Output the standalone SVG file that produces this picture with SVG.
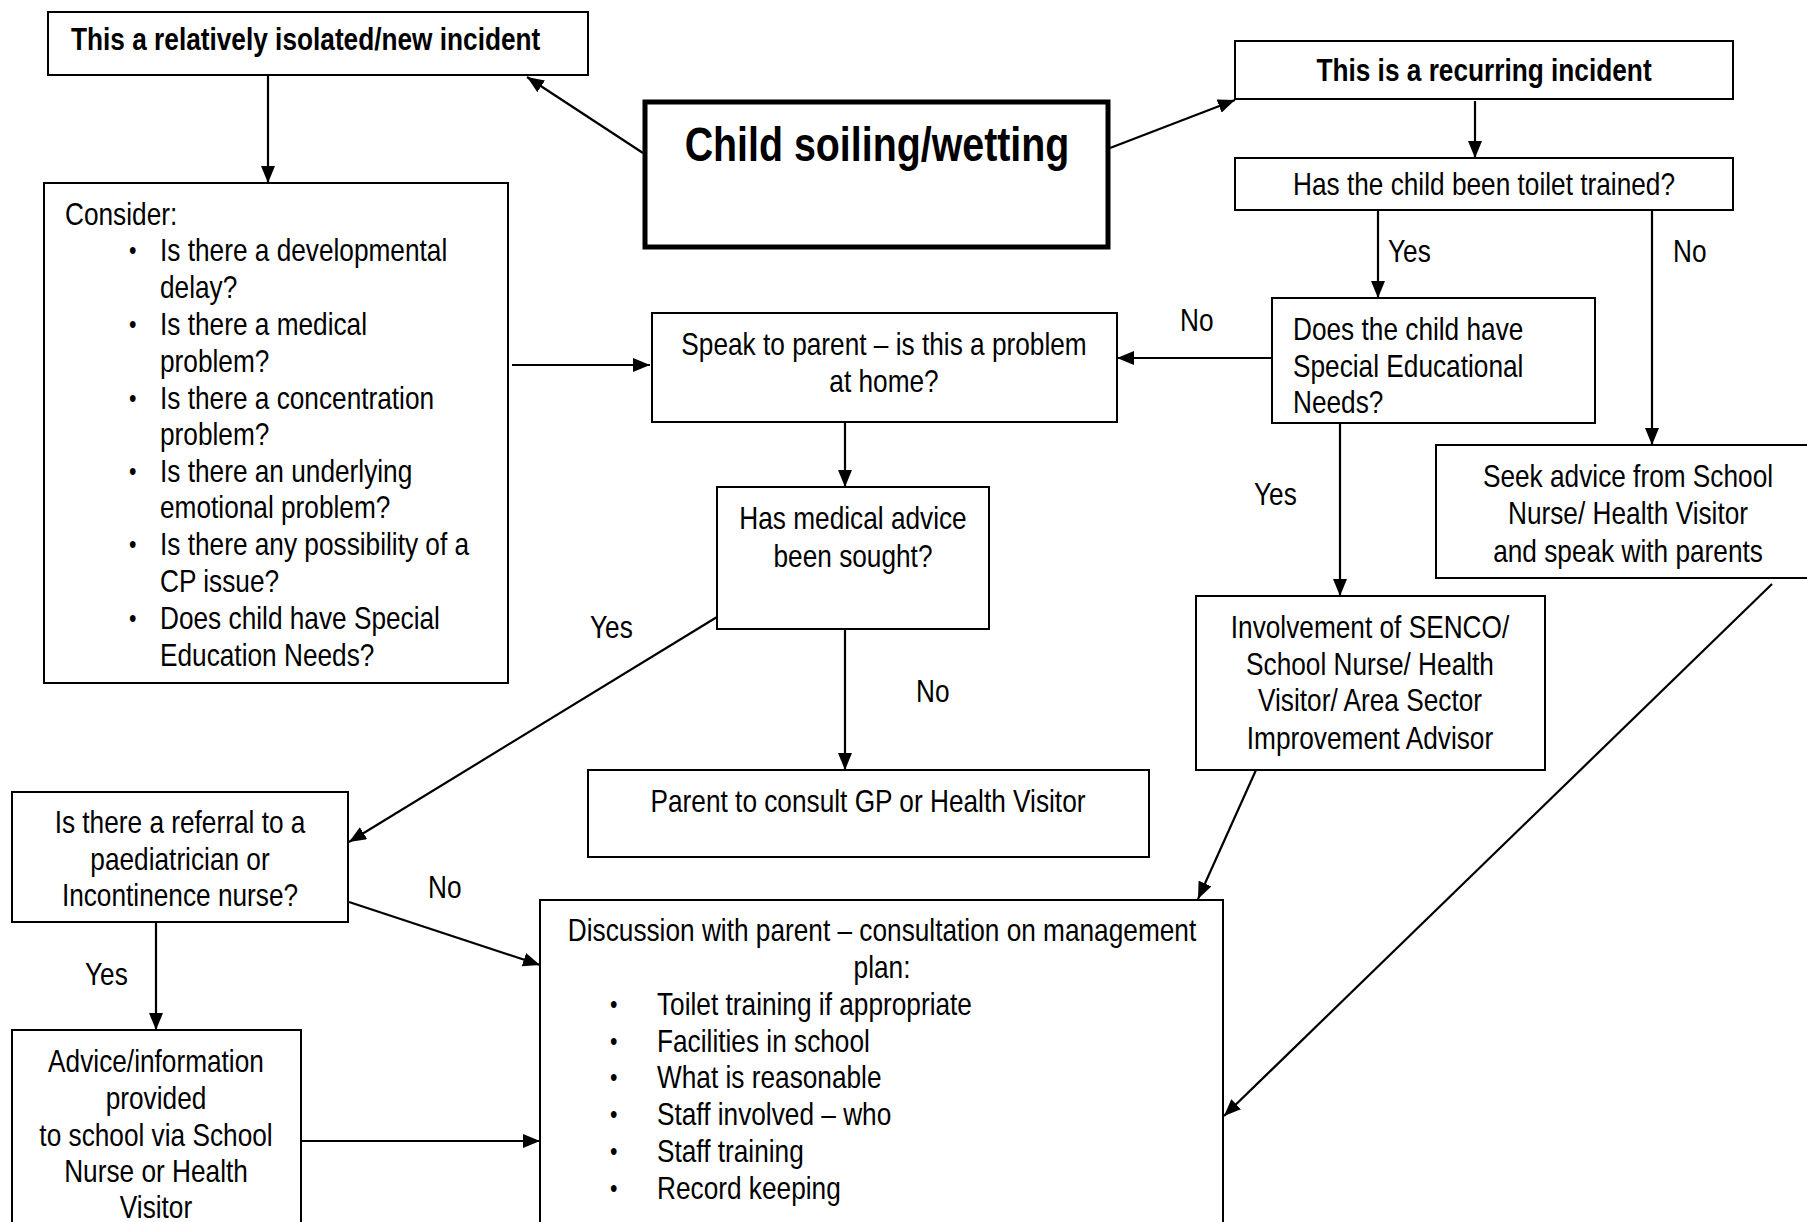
<svg xmlns="http://www.w3.org/2000/svg" width="1807" height="1222" viewBox="0 0 1807 1222">
<style>
text{font-family:"Liberation Sans",Arial,sans-serif;font-size:32px;fill:#000}
.b{font-weight:bold}
.big{font-size:48px;font-weight:bold}
.c{text-anchor:middle}
.dot{font-size:26px}
.box{fill:#fff;stroke:#000;stroke-width:2}
.thick{fill:#fff;stroke:#000;stroke-width:5}
.con line{stroke:#000;stroke-width:2.2;marker-end:url(#ah)}
</style>
<defs>
<marker id="ah" markerUnits="userSpaceOnUse" markerWidth="18" markerHeight="14" refX="17" refY="7" orient="auto">
<path d="M0,0 L17,7 L0,14 z" fill="#000"/>
</marker>
</defs>
<rect width="1807" height="1222" fill="#fff"/>

<g class="con">
<line x1="268" y1="75" x2="268" y2="183"/>
<line x1="643" y1="153" x2="527" y2="77"/>
<line x1="1110" y1="148" x2="1235" y2="100"/>
<line x1="1475" y1="101" x2="1475" y2="158"/>
<line x1="1378" y1="210" x2="1378" y2="298"/>
<line x1="1652" y1="210" x2="1652" y2="445"/>
<line x1="1272" y1="358" x2="1117" y2="358"/>
<line x1="512" y1="365" x2="650" y2="365"/>
<line x1="845" y1="422" x2="845" y2="487"/>
<line x1="845" y1="629" x2="845" y2="770"/>
<line x1="717" y1="617" x2="349" y2="842"/>
<line x1="1340" y1="423" x2="1340" y2="596"/>
<line x1="1256" y1="770" x2="1198" y2="899"/>
<line x1="1772" y1="584" x2="1224" y2="1116"/>
<line x1="349" y1="902" x2="540" y2="965"/>
<line x1="156" y1="922" x2="156" y2="1030"/>
<line x1="301" y1="1141" x2="540" y2="1141"/>
</g>

<g id="labels">
<text transform="translate(1388,262) scale(.82,1)">Yes</text>
<text transform="translate(1673,262) scale(.82,1)">No</text>
<text transform="translate(1180,331) scale(.82,1)">No</text>
<text transform="translate(1254,505) scale(.82,1)">Yes</text>
<text transform="translate(590,638) scale(.82,1)">Yes</text>
<text transform="translate(916,702) scale(.82,1)">No</text>
<text transform="translate(428,898) scale(.82,1)">No</text>
<text transform="translate(85,985) scale(.82,1)">Yes</text>
</g>

<g id="n-isolated">
<rect class="box" x="48" y="12" width="540" height="63"/>
<text class="b" transform="translate(71,50) scale(.82,1)">This a relatively isolated/new incident</text>
</g>

<g id="n-child">
<rect class="thick" x="645" y="102" width="463" height="145"/>
<text class="big c" transform="translate(877,161) scale(.82,1)">Child soiling/wetting</text>
</g>

<g id="n-recurring">
<rect class="box" x="1235" y="41" width="498" height="58"/>
<text class="b c" transform="translate(1484,81) scale(.82,1)">This is a recurring incident</text>
</g>

<g id="n-toilet">
<rect class="box" x="1235" y="158" width="498" height="52"/>
<text class="c" transform="translate(1484,195) scale(.82,1)">Has the child been toilet trained?</text>
</g>

<g id="n-sen">
<rect class="box" x="1272" y="298" width="323" height="125"/>
<text transform="translate(1293,340) scale(.82,1)">Does the child have</text>
<text transform="translate(1293,377) scale(.82,1)">Special Educational</text>
<text transform="translate(1293,413) scale(.82,1)">Needs?</text>
</g>

<g id="n-consider">
<rect class="box" x="44" y="183" width="464" height="500"/>
<text transform="translate(65,225) scale(.82,1)">Consider:</text>
<text class="dot" transform="translate(129,259) scale(.82,1)">•</text>
<text transform="translate(160,261) scale(.82,1)">Is there a developmental</text>
<text transform="translate(160,298) scale(.82,1)">delay?</text>
<text class="dot" transform="translate(129,333) scale(.82,1)">•</text>
<text transform="translate(160,335) scale(.82,1)">Is there a medical</text>
<text transform="translate(160,372) scale(.82,1)">problem?</text>
<text class="dot" transform="translate(129,407) scale(.82,1)">•</text>
<text transform="translate(160,409) scale(.82,1)">Is there a concentration</text>
<text transform="translate(160,445) scale(.82,1)">problem?</text>
<text class="dot" transform="translate(129,480) scale(.82,1)">•</text>
<text transform="translate(160,482) scale(.82,1)">Is there an underlying</text>
<text transform="translate(160,518) scale(.82,1)">emotional problem?</text>
<text class="dot" transform="translate(129,553) scale(.82,1)">•</text>
<text transform="translate(160,555) scale(.82,1)">Is there any possibility of a</text>
<text transform="translate(160,592) scale(.82,1)">CP issue?</text>
<text class="dot" transform="translate(129,627) scale(.82,1)">•</text>
<text transform="translate(160,629) scale(.82,1)">Does child have Special</text>
<text transform="translate(160,666) scale(.82,1)">Education Needs?</text>
</g>

<g id="n-speak">
<rect class="box" x="652" y="313" width="465" height="109"/>
<text class="c" transform="translate(884,355) scale(.82,1)">Speak to parent – is this a problem</text>
<text class="c" transform="translate(884,392) scale(.82,1)">at home?</text>
</g>

<g id="n-medical">
<rect class="box" x="717" y="487" width="272" height="142"/>
<text class="c" transform="translate(853,529) scale(.82,1)">Has medical advice</text>
<text class="c" transform="translate(853,567) scale(.82,1)">been sought?</text>
</g>

<g id="n-gp">
<rect class="box" x="588" y="770" width="561" height="87"/>
<text class="c" transform="translate(868,812) scale(.82,1)">Parent to consult GP or Health Visitor</text>
</g>

<g id="n-referral">
<rect class="box" x="12" y="792" width="336" height="130"/>
<text class="c" transform="translate(180,833) scale(.82,1)">Is there a referral to a</text>
<text class="c" transform="translate(180,870) scale(.82,1)">paediatrician or</text>
<text class="c" transform="translate(180,906) scale(.82,1)">Incontinence nurse?</text>
</g>

<g id="n-advice">
<rect class="box" x="12" y="1030" width="289" height="200"/>
<text class="c" transform="translate(156,1072) scale(.82,1)">Advice/information</text>
<text class="c" transform="translate(156,1109) scale(.82,1)">provided</text>
<text class="c" transform="translate(156,1146) scale(.82,1)">to school via School</text>
<text class="c" transform="translate(156,1182) scale(.82,1)">Nurse or Health</text>
<text class="c" transform="translate(156,1218) scale(.82,1)">Visitor</text>
</g>

<g id="n-discussion">
<rect class="box" x="540" y="900" width="683" height="330"/>
<text class="c" transform="translate(882,941) scale(.82,1)">Discussion with parent – consultation on management</text>
<text class="c" transform="translate(882,978) scale(.82,1)">plan:</text>
<text class="dot" transform="translate(610,1013) scale(.82,1)">•</text>
<text transform="translate(657,1015) scale(.82,1)">Toilet training if appropriate</text>
<text class="dot" transform="translate(610,1050) scale(.82,1)">•</text>
<text transform="translate(657,1052) scale(.82,1)">Facilities in school</text>
<text class="dot" transform="translate(610,1086) scale(.82,1)">•</text>
<text transform="translate(657,1088) scale(.82,1)">What is reasonable</text>
<text class="dot" transform="translate(610,1123) scale(.82,1)">•</text>
<text transform="translate(657,1125) scale(.82,1)">Staff involved – who</text>
<text class="dot" transform="translate(610,1160) scale(.82,1)">•</text>
<text transform="translate(657,1162) scale(.82,1)">Staff training</text>
<text class="dot" transform="translate(610,1197) scale(.82,1)">•</text>
<text transform="translate(657,1199) scale(.82,1)">Record keeping</text>
</g>

<g id="n-senco">
<rect class="box" x="1196" y="596" width="349" height="174"/>
<text class="c" transform="translate(1370,638) scale(.82,1)">Involvement of SENCO/</text>
<text class="c" transform="translate(1370,675) scale(.82,1)">School Nurse/ Health</text>
<text class="c" transform="translate(1370,711) scale(.82,1)">Visitor/ Area Sector</text>
<text class="c" transform="translate(1370,749) scale(.82,1)">Improvement Advisor</text>
</g>

<g id="n-seek">
<rect class="box" x="1436" y="445" width="380" height="133"/>
<text class="c" transform="translate(1628,487) scale(.82,1)">Seek advice from School</text>
<text class="c" transform="translate(1628,524) scale(.82,1)">Nurse/ Health Visitor</text>
<text class="c" transform="translate(1628,562) scale(.82,1)">and speak with parents</text>
</g>
</svg>
